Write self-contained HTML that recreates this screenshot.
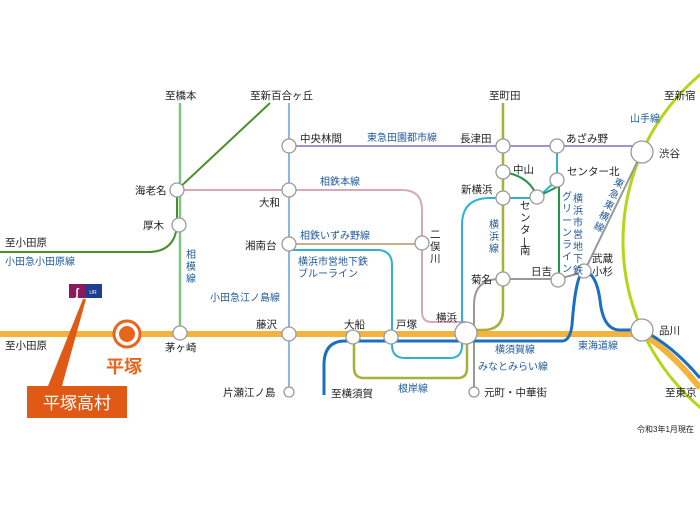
<!DOCTYPE html>
<html><head><meta charset="utf-8"><style>
html,body{margin:0;padding:0;background:#fff;}
svg{display:block;font-family:"Liberation Sans","Noto Sans CJK JP",sans-serif;}
.s{font-size:10.5px;fill:#222;}
.l{font-size:10px;fill:#1f5a9a;}
circle.st{fill:#fff;stroke:#999;stroke-width:1.3;}
</style></head><body>
<svg width="700" height="525" viewBox="0 0 700 525">
<!-- Yamanote -->
<circle cx="841" cy="241" r="218" fill="none" stroke="#b8d419" stroke-width="3"/>
<!-- Sagami line -->
<line x1="180" y1="103" x2="180" y2="333" stroke="#7fc77f" stroke-width="2.5"/>
<!-- Odakyu Odawara -->
<path d="M0,252 H148 Q175,252 177,225 L177,190 L270,103" fill="none" stroke="#4c8f2a" stroke-width="2"/>
<!-- Odakyu Enoshima -->
<line x1="289" y1="103" x2="289" y2="392" stroke="#8ab8e0" stroke-width="2"/>
<!-- Den-en-toshi -->
<line x1="289" y1="146" x2="636" y2="146" stroke="#a88fd0" stroke-width="2"/>
<!-- Sotetsu main -->
<path d="M177,190 H402 Q422,190 422,210 V312 Q422,322 432,322 H466" fill="none" stroke="#d9a7b8" stroke-width="2"/>
<!-- Izumino -->
<line x1="289" y1="244" x2="422" y2="244" stroke="#c9b08a" stroke-width="2"/>
<!-- Blue line subway -->
<path d="M289,250 H377 Q392,250 392,265 V345 Q392,358 405,358 H450 Q462,358 462,345 V225 Q462,198 490,198 H537 L557,180 V146" fill="none" stroke="#2db2d6" stroke-width="2"/>
<!-- Green line -->
<path d="M503,172 Q530,176 537,197 L559,186 V280" fill="none" stroke="#27934a" stroke-width="2"/>
<!-- Yokohama line -->
<path d="M503,103 V310 Q503,330 483,330 H466" fill="none" stroke="#a8b03a" stroke-width="2.5"/>
<!-- Negishi -->
<path d="M354,337 V368 Q354,378 364,378 H458 Q467,378 467,368 V333" fill="none" stroke="#a8b03a" stroke-width="2.5"/>
<!-- Toyoko / Minatomirai -->
<path d="M474,392 V305 Q474,279 500,279 H558 L584,272 L642,152" fill="none" stroke="#999" stroke-width="2"/>
<!-- Tokaido orange -->
<path d="M0,334 H642 Q670,350 700,388" fill="none" stroke="#f3b33c" stroke-width="6"/>
<!-- Yokosuka -->
<path d="M324,395 V365 Q324,341 345,341 H562 Q570,341 572,325 Q576,272 584,272 Q596,272 600,300 Q603,330 620,330 H642 Q672,345 700,378" fill="none" stroke="#1a6fc2" stroke-width="3"/>
<!-- stations -->
<g>
<circle class="st" cx="180" cy="333" r="7"/>
<circle class="st" cx="177" cy="190" r="7"/>
<circle class="st" cx="179" cy="225" r="7"/>
<circle class="st" cx="289" cy="146" r="7"/>
<circle class="st" cx="289" cy="190" r="7"/>
<circle class="st" cx="289" cy="244" r="7"/>
<circle class="st" cx="289" cy="334" r="7"/>
<circle class="st" cx="289" cy="392" r="5"/>
<circle class="st" cx="503" cy="146" r="7"/>
<circle class="st" cx="557" cy="146" r="7"/>
<circle class="st" cx="642" cy="152" r="11"/>
<circle class="st" cx="503" cy="172" r="7"/>
<circle class="st" cx="503" cy="198" r="7"/>
<circle class="st" cx="537" cy="197" r="7"/>
<circle class="st" cx="557" cy="180" r="7"/>
<circle class="st" cx="422" cy="243" r="7"/>
<circle class="st" cx="503" cy="279" r="7"/>
<circle class="st" cx="558" cy="280" r="7"/>
<circle class="st" cx="584" cy="271" r="7"/>
<circle class="st" cx="642" cy="330" r="11"/>
<circle class="st" cx="466" cy="333" r="11"/>
<circle class="st" cx="353" cy="337" r="7"/>
<circle class="st" cx="391" cy="337" r="7"/>
<circle class="st" cx="474" cy="392" r="5"/>
</g>
<!-- Hiratsuka -->
<circle cx="127" cy="334" r="13" fill="#fff" stroke="#e8651c" stroke-width="3"/>
<circle cx="127" cy="334" r="8" fill="#e8651c"/>
<text x="106" y="373" font-size="18" font-weight="bold" fill="#e8651c">平塚</text>
<polygon points="48,386 62,386 86,299 83,299" fill="#e05a16"/>
<rect x="27" y="386" width="100" height="32" fill="#e05a16"/>
<text x="77" y="409" font-size="17" fill="#fff" text-anchor="middle">平塚高村</text>
<rect x="69" y="284" width="16" height="14" fill="#8b1a5c"/>
<rect x="85" y="284" width="17" height="14" fill="#1e3f8c"/>
<text x="77" y="296" font-size="11" fill="#fff" text-anchor="middle" font-weight="bold">ʃ</text>
<text x="93" y="294" font-size="5" fill="#fff" text-anchor="middle">UR</text>
<!-- station labels -->
<g class="s">
<text x="165" y="99">至橋本</text>
<text x="250" y="99">至新百合ヶ丘</text>
<text x="489" y="99">至町田</text>
<text x="664" y="99">至新宿</text>
<text x="300" y="142">中央林間</text>
<text x="135" y="194">海老名</text>
<text x="143" y="229">厚木</text>
<text x="259" y="206">大和</text>
<text x="245" y="249">湘南台</text>
<text x="5" y="246">至小田原</text>
<text x="5" y="349">至小田原</text>
<text x="165" y="351">茅ヶ崎</text>
<text x="256" y="328">藤沢</text>
<text x="223" y="396">片瀬江ノ島</text>
<text x="460" y="142">長津田</text>
<text x="566" y="142">あざみ野</text>
<text x="659" y="157">渋谷</text>
<text x="513" y="173">中山</text>
<text x="567" y="175">センター北</text>
<text x="461" y="193">新横浜</text>
<text x="471" y="283">菊名</text>
<text x="531" y="275">日吉</text>
<text x="592" y="262">武蔵</text>
<text x="592" y="275">小杉</text>
<text x="659" y="334">品川</text>
<text x="665" y="396">至東京</text>
<text x="344" y="328">大船</text>
<text x="396" y="328">戸塚</text>
<text x="436" y="321">横浜</text>
<text x="331" y="397">至横須賀</text>
<text x="484" y="396">元町・中華街</text>
<text x="430" y="238">二</text>
<text x="430" y="250">俣</text>
<text x="430" y="262">川</text>
<text x="520" y="209">セ</text>
<text x="520" y="221">ン</text>
<text x="520" y="233">タ</text>
<text x="523" y="245">|</text>
<text x="520" y="254">南</text>
<text x="637" y="432" font-size="8">令和3年1月現在</text>
</g>
<g class="l">
<text x="367" y="141">東急田園都市線</text>
<text x="320" y="185">相鉄本線</text>
<text x="300" y="239">相鉄いずみ野線</text>
<text x="298" y="265">横浜市営地下鉄</text>
<text x="298" y="277">ブルーライン</text>
<text x="210" y="301">小田急江ノ島線</text>
<text x="5" y="265">小田急小田原線</text>
<text x="186" y="258">相</text>
<text x="186" y="270">模</text>
<text x="186" y="282">線</text>
<text x="489" y="228">横</text>
<text x="489" y="240">浜</text>
<text x="489" y="252">線</text>
<text x="573" y="202">横</text>
<text x="573" y="214">浜</text>
<text x="573" y="226">市</text>
<text x="573" y="238">営</text>
<text x="573" y="250">地</text>
<text x="573" y="262">下</text>
<text x="573" y="274">鉄</text>
<text x="562" y="200">グ</text>
<text x="562" y="212">リ</text>
<text x="562" y="224">ー</text>
<text x="562" y="236">ン</text>
<text x="562" y="248">ラ</text>
<text x="562" y="260">イ</text>
<text x="562" y="272">ン</text>
<text x="630" y="122">山手線</text>
<text transform="translate(613,184) rotate(26)">東</text>
<text transform="translate(608,195) rotate(26)">急</text>
<text transform="translate(603,206) rotate(26)">東</text>
<text transform="translate(598,217) rotate(26)">横</text>
<text transform="translate(593,228) rotate(26)">線</text>
<text x="495" y="353">横須賀線</text>
<text x="478" y="370">みなとみらい線</text>
<text x="578" y="349">東海道線</text>
<text x="398" y="392">根岸線</text>
</g>
</svg>
</body></html>
